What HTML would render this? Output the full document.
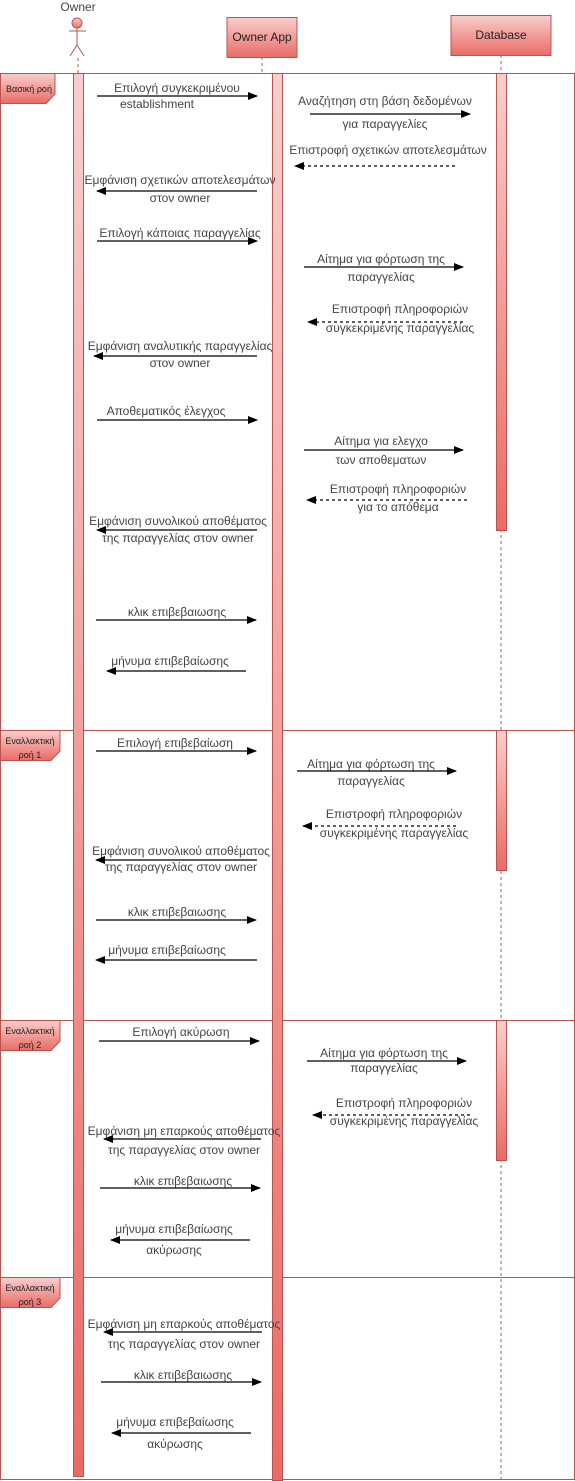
<!DOCTYPE html>
<html><head><meta charset="utf-8"><style>body{margin:0;background:#fff}svg{display:block}text{font-family:"Liberation Sans",sans-serif;font-size:12px;fill:#444;text-anchor:middle}</style></head><body>
<svg width="575" height="1481" viewBox="0 0 575 1481" xmlns="http://www.w3.org/2000/svg">
<defs>
<linearGradient id="g" x1="0" y1="0" x2="0" y2="1"><stop offset="0" stop-color="#f8cecc"/><stop offset="1" stop-color="#ea6b66"/></linearGradient>
<marker id="a" markerWidth="10" markerHeight="8" refX="9" refY="4" orient="auto" markerUnits="userSpaceOnUse"><path d="M0,0 L10,4 L0,8 Z" fill="#000"/></marker>
</defs>
<g stroke="#b85450" stroke-dasharray="3,3" fill="none">
<line x1="78" y1="58" x2="78" y2="73"/><line x1="262" y1="57" x2="262" y2="73"/><line x1="501" y1="55" x2="501" y2="1481"/>
</g>
<g stroke="#b85450" fill="none">
<circle cx="77" cy="23" r="5" fill="url(#g)"/><line x1="77" y1="28" x2="77" y2="45"/><line x1="69" y1="31" x2="86" y2="31"/><line x1="77" y1="45" x2="70" y2="56"/><line x1="77" y1="45" x2="84" y2="56"/>
</g>
<text x="78" y="11">Owner</text>
<rect x="227" y="17.5" width="70" height="40" fill="url(#g)" stroke="#b85450"/>
<text x="262" y="41" style="fill:#222">Owner App</text>
<rect x="451" y="15.5" width="100" height="40" fill="url(#g)" stroke="#b85450"/>
<text x="501" y="39" style="fill:#222">Database</text>
<g fill="none" stroke="#b85450">
<rect x="0.5" y="73.5" width="574" height="1406"/>
<line x1="0" y1="730.5" x2="575" y2="730.5"/><line x1="0" y1="1020.5" x2="575" y2="1020.5"/><line x1="0" y1="1277.5" x2="575" y2="1277.5"/>
</g>
<g stroke="#b85450">
<rect x="73.5" y="73.5" width="10" height="1403" fill="url(#g)"/>
<rect x="272.5" y="73.5" width="10" height="1407" fill="url(#g)"/>
<rect x="496.5" y="73.5" width="10" height="457" fill="url(#g)"/>
<rect x="496.5" y="730.5" width="10" height="140" fill="url(#g)"/>
<rect x="496.5" y="1020.5" width="10" height="140" fill="url(#g)"/>
</g>
<g fill="url(#g)" stroke="#b85450">
<path d="M0.5,73.5 H55 V94 L46,103.5 H0.5 Z"/>
<path d="M0.5,730.5 H60 V751 L51,760.5 H0.5 Z"/>
<path d="M0.5,1020.5 H60 V1041 L51,1050.5 H0.5 Z"/>
<path d="M0.5,1277.5 H60 V1298 L51,1307.5 H0.5 Z"/>
</g>
<text x="29" y="92" style="font-size:9px;fill:#222">Βασική ροή</text>
<text x="30" y="744" style="font-size:9px;fill:#222">Εναλλακτική</text><text x="30" y="758" style="font-size:9px;fill:#222">ροή 1</text>
<text x="30" y="1034" style="font-size:9px;fill:#222">Εναλλακτική</text><text x="30" y="1048" style="font-size:9px;fill:#222">ροή 2</text>
<text x="30" y="1291" style="font-size:9px;fill:#222">Εναλλακτική</text><text x="30" y="1305" style="font-size:9px;fill:#222">ροή 3</text>
<g stroke="#000" stroke-width="1.2" marker-end="url(#a)">
<line x1="97" y1="96" x2="257" y2="96"/>
<line x1="310" y1="114" x2="470" y2="114"/>
<line x1="455" y1="166" x2="295" y2="166" stroke-dasharray="3,3"/>
<line x1="257" y1="191" x2="97" y2="191"/>
<line x1="97" y1="241" x2="257" y2="241"/>
<line x1="304" y1="267" x2="463" y2="267"/>
<line x1="463" y1="322" x2="308" y2="322" stroke-dasharray="3,3"/>
<line x1="257" y1="356" x2="94" y2="356"/>
<line x1="97" y1="420" x2="257" y2="420"/>
<line x1="304" y1="450" x2="463" y2="450"/>
<line x1="467" y1="500" x2="307" y2="500" stroke-dasharray="3,3"/>
<line x1="257" y1="530" x2="97" y2="530"/>
<line x1="96" y1="620" x2="256" y2="620"/>
<line x1="246" y1="671" x2="107" y2="671"/>
<line x1="96" y1="751" x2="256" y2="751"/>
<line x1="297" y1="771" x2="456" y2="771"/>
<line x1="456" y1="826" x2="303" y2="826" stroke-dasharray="3,3"/>
<line x1="257" y1="860" x2="96" y2="860"/>
<line x1="96" y1="920" x2="256" y2="920"/>
<line x1="257" y1="960" x2="96" y2="960"/>
<line x1="99" y1="1041" x2="259" y2="1041"/>
<line x1="307" y1="1061" x2="466" y2="1061"/>
<line x1="470" y1="1115" x2="313" y2="1115" stroke-dasharray="3,3"/>
<line x1="261" y1="1139" x2="104" y2="1139"/>
<line x1="100" y1="1188" x2="260" y2="1188"/>
<line x1="250" y1="1240" x2="111" y2="1240"/>
<line x1="262" y1="1332" x2="104" y2="1332"/>
<line x1="101" y1="1382" x2="261" y2="1382"/>
<line x1="251" y1="1433" x2="112" y2="1433"/>
</g>
<text x="177" y="92">Επιλογή συγκεκριμένου</text><text x="157" y="108">establishment</text>
<text x="385" y="105">Αναζήτηση στη βάση δεδομένων</text><text x="385" y="128">για παραγγελίες</text>
<text x="388" y="154">Επιστροφή σχετικών αποτελεσμάτων</text>
<text x="180" y="184">Εμφάνιση σχετικών αποτελεσμάτων</text><text x="180" y="202">στον owner</text>
<text x="180" y="237">Επιλογή κάποιας παραγγελίας</text>
<text x="381" y="263">Αίτημα για φόρτωση της</text><text x="381" y="281">παραγγελίας</text>
<text x="400" y="313">Επιστροφή πληροφοριών</text><text x="400" y="332">συγκεκριμένης παραγγελίας</text>
<text x="180" y="350">Εμφάνιση αναλυτικής παραγγελίας</text><text x="180" y="367">στον owner</text>
<text x="166" y="415">Αποθεματικός έλεγχος</text>
<text x="381" y="445">Αίτημα για ελεγχο</text><text x="381" y="464">των αποθεματων</text>
<text x="398" y="493">Επιστροφή πληροφοριών</text><text x="398" y="511">για το απόθεμα</text>
<text x="178" y="525">Εμφάνιση συνολικού αποθέματος</text><text x="178" y="542">της παραγγελίας στον owner</text>
<text x="177" y="616">κλικ επιβεβαιωσης</text>
<text x="170" y="665">μήνυμα επιβεβαίωσης</text>
<text x="175" y="747">Επιλογή επιβεβαίωση</text>
<text x="371" y="768">Αίτημα για φόρτωση της</text><text x="371" y="785">παραγγελίας</text>
<text x="394" y="818">Επιστροφή πληροφοριών</text><text x="394" y="837">συγκεκριμένης παραγγελίας</text>
<text x="181" y="855">Εμφάνιση συνολικού αποθέματος</text><text x="181" y="871">της παραγγελίας στον owner</text>
<text x="177" y="916">κλικ επιβεβαιωσης</text>
<text x="167" y="954">μήνυμα επιβεβαίωσης</text>
<text x="181" y="1036">Επιλογή ακύρωση</text>
<text x="384" y="1057">Αίτημα για φόρτωση της</text><text x="384" y="1072">παραγγελίας</text>
<text x="404" y="1107">Επιστροφή πληροφοριών</text><text x="404" y="1125">συγκεκριμένης παραγγελίας</text>
<text x="184" y="1135">Εμφάνιση μη επαρκούς αποθέματος</text><text x="184" y="1154">της παραγγελίας στον owner</text>
<text x="183" y="1185">κλικ επιβεβαιωσης</text>
<text x="174" y="1233">μήνυμα επιβεβαίωσης</text><text x="174" y="1254">ακύρωσης</text>
<text x="184" y="1328">Εμφάνιση μη επαρκούς αποθέματος</text><text x="184" y="1348">της παραγγελίας στον owner</text>
<text x="183" y="1379">κλικ επιβεβαιωσης</text>
<text x="175" y="1426">μήνυμα επιβεβαίωσης</text><text x="175" y="1448">ακύρωσης</text>
</svg>
</body></html>
